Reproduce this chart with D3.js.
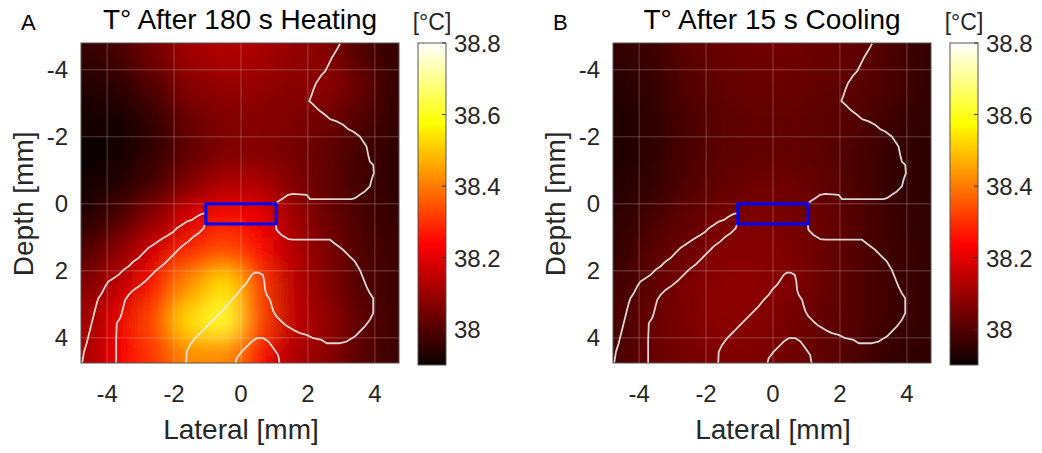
<!DOCTYPE html>
<html>
<head>
<meta charset="utf-8">
<script src="https://cdn.jsdelivr.net/npm/d3@7"></script>
<style>
    body { margin: 0; background: #fff; }
    svg { display: block; font-family: "Liberation Sans", Arial, sans-serif; }
</style>
</head>
<body>
<div id="chart"></div>
<script>
// Grid of sample centres (mm)
const lateralCenters = [-4.5, -3.5, -2.5, -1.5, -0.5, 0.5, 1.5, 2.5, 3.5, 4.5];
const depthCenters = [-4.5, -3.5, -2.5, -1.5, -0.5, 0.5, 1.5, 2.5, 3.5, 4.5];

// Temperatures [°C], one row per depth
const heatingTemps = [
    [37.96, 37.99, 38.05, 38.11, 38.13, 38.12, 38.09, 38.07, 38.00, 37.96],
    [37.93, 37.95, 38.00, 38.07, 38.09, 38.09, 38.07, 38.08, 38.03, 37.96],
    [37.91, 37.92, 37.96, 38.03, 38.06, 38.07, 38.06, 38.04, 38.00, 37.96],
    [37.90, 37.92, 37.96, 38.02, 38.06, 38.07, 38.05, 38.02, 37.98, 37.95],
    [37.91, 37.94, 37.99, 38.07, 38.13, 38.13, 38.07, 38.02, 37.98, 37.95],
    [37.94, 38.00, 38.09, 38.19, 38.26, 38.22, 38.11, 38.04, 37.99, 37.96],
    [38.00, 38.09, 38.19, 38.29, 38.34, 38.25, 38.14, 38.06, 38.00, 37.97],
    [38.07, 38.16, 38.27, 38.43, 38.54, 38.32, 38.15, 38.07, 38.00, 37.97],
    [38.11, 38.22, 38.34, 38.54, 38.62, 38.33, 38.16, 38.09, 38.02, 37.97],
    [38.12, 38.23, 38.31, 38.42, 38.42, 38.26, 38.13, 38.08, 38.01, 37.97]
];

const coolingTemps = [
    [37.96, 37.97, 38.01, 38.03, 38.04, 38.04, 38.03, 38.02, 37.99, 37.96],
    [37.94, 37.96, 38.00, 38.02, 38.03, 38.03, 38.02, 38.01, 37.99, 37.96],
    [37.93, 37.95, 37.99, 38.01, 38.02, 38.02, 38.01, 38.00, 37.97, 37.95],
    [37.93, 37.95, 37.99, 38.01, 38.02, 38.02, 38.01, 37.99, 37.96, 37.95],
    [37.94, 37.96, 38.00, 38.02, 38.04, 38.04, 38.02, 37.99, 37.96, 37.95],
    [37.95, 37.99, 38.02, 38.05, 38.06, 38.05, 38.03, 38.00, 37.97, 37.95],
    [37.96, 38.01, 38.04, 38.07, 38.07, 38.06, 38.03, 38.00, 37.97, 37.96],
    [37.98, 38.02, 38.06, 38.08, 38.08, 38.06, 38.03, 38.00, 37.97, 37.96],
    [37.99, 38.03, 38.06, 38.08, 38.07, 38.05, 38.02, 38.00, 37.97, 37.96],
    [37.99, 38.03, 38.05, 38.06, 38.06, 38.04, 38.02, 37.99, 37.96, 37.95]
];

// Tissue boundary contours [lateral, depth] in mm
const contourRight = [
    [2.96, -4.78], [2.86, -4.60], [2.71, -4.35], [2.61, -4.15], [2.51, -3.95], [2.41, -3.85],
    [2.31, -3.70], [2.24, -3.60], [2.16, -3.40], [2.11, -3.25], [2.04, -3.07], [2.16, -2.96],
    [2.31, -2.81], [2.51, -2.66], [2.66, -2.53], [2.86, -2.46], [3.05, -2.36], [3.20, -2.23],
    [3.35, -2.16], [3.55, -2.01], [3.65, -1.86], [3.75, -1.71], [3.80, -1.46], [3.85, -1.26],
    [3.95, -1.16], [3.97, -0.92], [3.90, -0.72], [3.85, -0.52], [3.70, -0.37], [3.55, -0.27],
    [3.40, -0.17], [3.30, -0.14], [2.06, -0.14], [1.96, -0.27], [1.56, -0.30], [1.41, -0.27],
    [1.26, -0.17], [1.11, -0.07], [1.04, 0.00]
];
const contourLoop = [
    [1.04, 0.61], [1.06, 0.78], [1.21, 0.93], [1.41, 1.05], [1.56, 1.07], [2.66, 1.07],
    [2.81, 1.19], [3.05, 1.37], [3.20, 1.52], [3.40, 1.72], [3.55, 1.97], [3.65, 2.22],
    [3.75, 2.47], [3.85, 2.67], [3.95, 2.82], [3.95, 3.26], [3.85, 3.46], [3.70, 3.66],
    [3.55, 3.81], [3.40, 3.96], [3.15, 4.11], [2.96, 4.16], [2.56, 4.16], [2.41, 4.06],
    [2.16, 4.01], [1.96, 3.91], [1.76, 3.86], [1.56, 3.76], [1.36, 3.64], [1.21, 3.51],
    [1.06, 3.36], [0.97, 3.21], [0.92, 3.06], [0.87, 2.87], [0.77, 2.72], [0.72, 2.57],
    [0.69, 2.27], [0.65, 2.12], [0.52, 2.05], [0.42, 2.05], [0.32, 2.12], [0.22, 2.27],
    [0.12, 2.42], [-0.03, 2.57], [-0.13, 2.72], [-0.28, 2.87], [-0.43, 3.06], [-0.63, 3.26],
    [-0.83, 3.46], [-0.98, 3.61], [-1.17, 3.81], [-1.37, 4.01], [-1.52, 4.21], [-1.62, 4.41],
    [-1.64, 4.81]
];
const contourLeftOuter = [
    [-1.05, 0.28], [-1.17, 0.30], [-1.32, 0.38], [-1.47, 0.48], [-1.62, 0.53], [-1.77, 0.63],
    [-1.92, 0.73], [-2.02, 0.83], [-2.17, 0.93], [-2.32, 1.02], [-2.47, 1.12], [-2.62, 1.22],
    [-2.77, 1.32], [-2.92, 1.47], [-3.06, 1.62], [-3.21, 1.72], [-3.36, 1.87], [-3.51, 1.97],
    [-3.66, 2.12], [-3.81, 2.22], [-3.96, 2.32], [-4.06, 2.47], [-4.16, 2.67], [-4.26, 2.82],
    [-4.31, 2.97], [-4.36, 3.16], [-4.41, 3.36], [-4.46, 3.56], [-4.51, 3.76], [-4.56, 3.96],
    [-4.61, 4.16], [-4.69, 4.41], [-4.73, 4.66], [-4.76, 4.81]
];
const contourLeftInner = [
    [-1.07, 0.61], [-1.12, 0.73], [-1.27, 0.88], [-1.42, 0.98], [-1.57, 1.12], [-1.77, 1.27],
    [-1.92, 1.42], [-2.12, 1.62], [-2.32, 1.82], [-2.52, 1.97], [-2.72, 2.17], [-2.87, 2.32],
    [-3.06, 2.47], [-3.21, 2.57], [-3.36, 2.72], [-3.46, 2.87], [-3.51, 3.06], [-3.56, 3.26],
    [-3.61, 3.41], [-3.71, 3.56], [-3.73, 4.06], [-3.73, 4.81]
];
const contourBottom = [
    [-0.18, 4.81], [-0.13, 4.61], [0.02, 4.41], [0.17, 4.26], [0.32, 4.11], [0.47, 4.01],
    [0.67, 4.01], [0.82, 4.11], [0.97, 4.31], [1.11, 4.51], [1.16, 4.81]
];

// Transducer outline (mm)
const transducerLateral = [-1.05, 1.05];
const transducerDepth = [0, 0.6];

// Axis ticks
const axisTicks = [-4, -2, 0, 2, 4];
const colorbarTicks = [38, 38.2, 38.4, 38.6, 38.8];
const tempRange = [37.9, 38.8];

const panels = [
    { letter: "A", title: "T° After 180 s Heating", temps: heatingTemps, left: 81, cbLeft: 418 },
    { letter: "B", title: "T° After 15 s Cooling", temps: coolingTemps, left: 613, cbLeft: 950 }
];

const layout = { top: 43, plotW: 318, plotH: 320, cbW: 28, cbTop: 43, cbBottom: 365 };
const textColor = "#262626";

// MATLAB "hot" colormap stops
const span = tempRange[1] - tempRange[0];
const hot = d3.scaleLinear()
    .domain([tempRange[0], tempRange[0] + span * 3 / 8, tempRange[0] + span * 6 / 8, tempRange[1]])
    .range(["#0b0000", "#ff0000", "#ffff00", "#ffffff"])
    .clamp(true);

const svg = d3.select("#chart").append("svg")
    .attr("width", 1042)
    .attr("height", 453);

const defs = svg.append("defs");
defs.append("filter")
    .attr("id", "smooth")
    .attr("filterUnits", "userSpaceOnUse")
    .attr("x", 0).attr("y", 0).attr("width", 1042).attr("height", 453)
    .append("feGaussianBlur")
    .attr("stdDeviation", 12);

const grad = defs.append("linearGradient")
    .attr("id", "hotbar")
    .attr("x1", 0).attr("y1", 1).attr("x2", 0).attr("y2", 0);
hot.domain().forEach(v => {
    grad.append("stop")
        .attr("offset", (v - tempRange[0]) / span)
        .attr("stop-color", hot(v));
});

function drawPanel(p, idx) {
    const x = d3.scaleLinear().domain([-4.78, 4.72]).range([p.left, p.left + layout.plotW]);
    const y = d3.scaleLinear().domain([-4.8, 4.75]).range([layout.top, layout.top + layout.plotH]);
    const g = svg.append("g");

    defs.append("clipPath").attr("id", "clip" + idx)
        .append("rect")
        .attr("x", p.left).attr("y", layout.top)
        .attr("width", layout.plotW).attr("height", layout.plotH);

    const plot = g.append("g").attr("clip-path", `url(#clip${idx})`);
    plot.append("rect")
        .attr("x", p.left).attr("y", layout.top)
        .attr("width", layout.plotW).attr("height", layout.plotH)
        .attr("fill", hot(37.95));

    // heat cells, extended at the borders so the smoothing doesn't fade out
    const cells = [];
    p.temps.forEach((row, i) => row.forEach((v, j) => cells.push({ i, j, v })));
    const last = lateralCenters.length - 1;
    plot.append("g")
        .attr("filter", "url(#smooth)")
        .selectAll("rect")
        .data(cells)
        .join("rect")
        .attr("x", d => Math.floor(x(lateralCenters[d.j] - 0.5)) - (d.j === 0 ? 40 : 0))
        .attr("y", d => Math.floor(y(depthCenters[d.i] - 0.5)) - (d.i === 0 ? 40 : 0))
        .attr("width", d => Math.ceil(x(lateralCenters[d.j] + 0.5) - x(lateralCenters[d.j] - 0.5)) + 1 + (d.j === 0 || d.j === last ? 40 : 0))
        .attr("height", d => Math.ceil(y(depthCenters[d.i] + 0.5) - y(depthCenters[d.i] - 0.5)) + 1 + (d.i === 0 || d.i === last ? 40 : 0))
        .attr("fill", d => hot(d.v));

    // grid
    plot.selectAll(".vgrid").data(axisTicks).join("line")
        .attr("x1", d => x(d)).attr("x2", d => x(d))
        .attr("y1", layout.top).attr("y2", layout.top + layout.plotH)
        .attr("stroke", "#fff").attr("stroke-opacity", 0.25).attr("stroke-width", 1);
    plot.selectAll(".hgrid").data(axisTicks).join("line")
        .attr("y1", d => y(d)).attr("y2", d => y(d))
        .attr("x1", p.left).attr("x2", p.left + layout.plotW)
        .attr("stroke", "#fff").attr("stroke-opacity", 0.25).attr("stroke-width", 1);

    // tissue contours
    const line = d3.line().x(d => x(d[0])).y(d => y(d[1]));
    plot.selectAll(".contour")
        .data([contourRight, contourLoop, contourLeftOuter, contourLeftInner, contourBottom])
        .join("path")
        .attr("d", line)
        .attr("fill", "none")
        .attr("stroke", "#ebebeb")
        .attr("stroke-opacity", 0.9)
        .attr("stroke-width", 1.8)
        .attr("stroke-linejoin", "round");

    // transducer
    plot.append("rect")
        .attr("x", x(transducerLateral[0])).attr("y", y(transducerDepth[0]))
        .attr("width", x(transducerLateral[1]) - x(transducerLateral[0]))
        .attr("height", y(transducerDepth[1]) - y(transducerDepth[0]))
        .attr("fill", "none").attr("stroke", "#0000ff").attr("stroke-width", 3);

    g.append("rect")
        .attr("x", p.left).attr("y", layout.top)
        .attr("width", layout.plotW).attr("height", layout.plotH)
        .attr("fill", "none").attr("stroke", "#555").attr("stroke-width", 1);

    // tick labels
    g.selectAll(".xt").data(axisTicks).join("text")
        .attr("x", d => x(d)).attr("y", 402)
        .attr("text-anchor", "middle").attr("font-size", 24).attr("fill", textColor)
        .text(d => d);
    g.selectAll(".yt").data(axisTicks).join("text")
        .attr("x", p.left - 13).attr("y", d => y(d) + 8)
        .attr("text-anchor", "end").attr("font-size", 24).attr("fill", textColor)
        .text(d => d);

    g.append("text")
        .attr("x", x(0)).attr("y", 439)
        .attr("text-anchor", "middle").attr("font-size", 28).attr("fill", textColor)
        .text("Lateral [mm]");
    g.append("text")
        .attr("transform", `translate(${p.left - 48},${y(0)}) rotate(-90)`)
        .attr("text-anchor", "middle").attr("font-size", 28).attr("fill", textColor)
        .text("Depth [mm]");

    g.append("text")
        .attr("x", p.left + layout.plotW / 2).attr("y", 29)
        .attr("text-anchor", "middle").attr("font-size", 28).attr("fill", "#000")
        .text(p.title);
    g.append("text")
        .attr("x", p.left - 60).attr("y", 30)
        .attr("font-size", 22).attr("fill", "#000")
        .text(p.letter);

    // colorbar
    const cy = d3.scaleLinear().domain(tempRange).range([layout.cbBottom, layout.cbTop]);
    g.append("rect")
        .attr("x", p.cbLeft).attr("y", layout.cbTop)
        .attr("width", layout.cbW).attr("height", layout.cbBottom - layout.cbTop)
        .attr("fill", "url(#hotbar)").attr("stroke", "#555").attr("stroke-width", 1);
    g.selectAll(".cbtick").data(colorbarTicks).join("line")
        .attr("x1", p.cbLeft + layout.cbW - 4).attr("x2", p.cbLeft + layout.cbW)
        .attr("y1", d => cy(d)).attr("y2", d => cy(d))
        .attr("stroke", "#333").attr("stroke-width", 1);
    g.selectAll(".cblabel").data(colorbarTicks).join("text")
        .attr("x", p.cbLeft + layout.cbW + 8).attr("y", d => cy(d) + 9)
        .attr("font-size", 24).attr("fill", textColor)
        .text(d => d);
    g.append("text")
        .attr("x", p.cbLeft + layout.cbW / 2).attr("y", 30)
        .attr("text-anchor", "middle").attr("font-size", 23).attr("fill", textColor)
        .text("[°C]");
}

panels.forEach(drawPanel);
</script>
</body>
</html>
